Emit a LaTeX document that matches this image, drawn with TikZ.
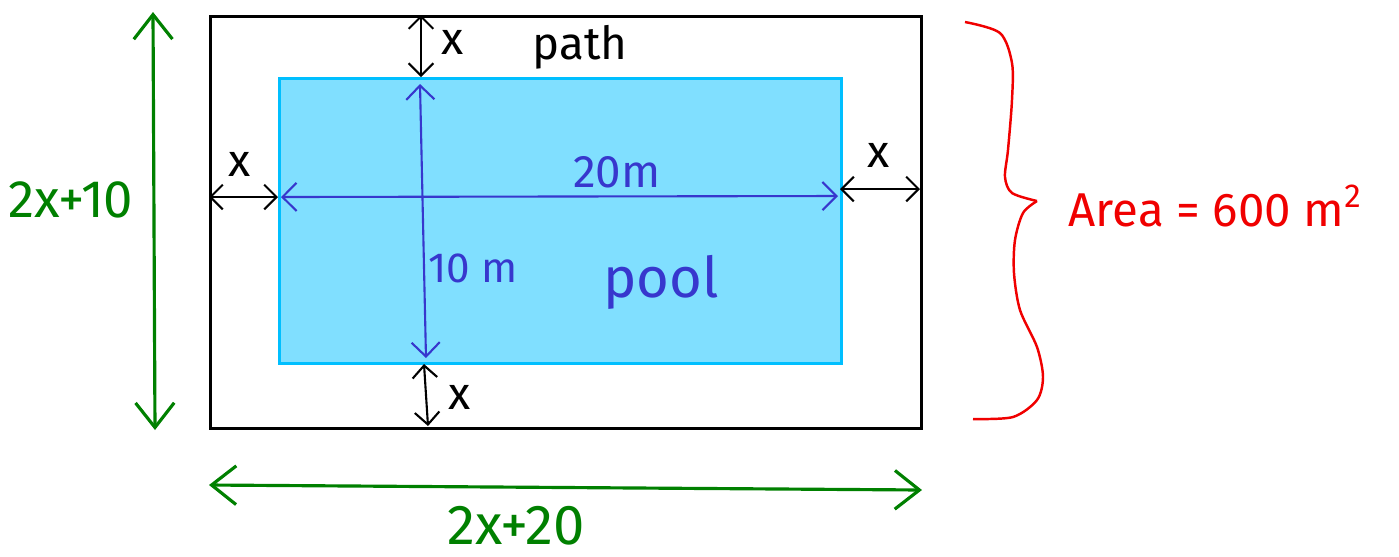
\documentclass[tikz,border=0pt]{standalone}
\usepackage{fontspec}
\setmainfont{Fira Sans}
\usetikzlibrary{arrows.meta}
\definecolor{poolfill}{RGB}{128,223,255}
\definecolor{pooledge}{RGB}{0,191,255}
\definecolor{dimblue}{RGB}{55,55,205}
\definecolor{dimgreen}{RGB}{0,128,0}
\definecolor{areared}{RGB}{240,0,0}
\tikzset{
  dimline/.style={<->, line width=0.6pt},
  bigdim/.style={<->, dimgreen, line width=0.9pt, >={Straight Barb[length=7pt,width=11pt]}},
  bigtext/.style={font=\fontsize{16}{19}\selectfont, inner sep=0pt}
}
\begin{document}
\begin{tikzpicture}[>={Straight Barb[length=3.5pt,width=7pt]}, every node/.style={font=\fontsize{13}{15}\selectfont}]
        \useasboundingbox (0,0) rectangle (13.99,-5.56);
        % path and pool
        \node[draw, line width=0.9pt, minimum width=7.11cm, minimum height=4.12cm, inner sep=0, anchor=north west] (outer) at (2.09,-0.15) {};
        \node[draw=pooledge, fill=poolfill, line width=0.9pt, minimum width=5.62cm, minimum height=2.85cm, inner sep=0, anchor=north west] (pool) at (2.78,-0.77) {};
        \coordinate (topA) at (4.21,-0.15); \coordinate (topB) at (4.21,-0.77);
        \coordinate (leftA) at (2.09,-1.97); \coordinate (leftB) at (2.78,-1.97);
        \coordinate (rightA) at (8.40,-1.89); \coordinate (rightB) at (9.20,-1.89);
        \coordinate (botA) at (4.24,-3.64); \coordinate (botB) at (4.28,-4.26);
        \draw[dimline] (topA) -- (topB);
        \draw[dimline] (leftA) -- (leftB);
        \draw[dimline] (rightA) -- (rightB);
        \draw[dimline] (botA) -- (botB);
        \node (xtop) at (4.53,-0.42) {x};
        \node (xleft) at (2.40,-1.64) {x};
        \node (xright) at (8.79,-1.55) {x};
        \node (xbot) at (4.60,-3.97) {x};
        \node (pathlbl) at (5.80,-0.47) {path};
        % pool sizes
        \coordinate (lenA) at (2.81,-1.97); \coordinate (lenB) at (8.38,-1.96);
        \coordinate (widA) at (4.20,-0.84); \coordinate (widB) at (4.26,-3.58);
        \draw[dimline, dimblue, >={Straight Barb[length=4pt,width=8pt]}] (lenA) -- (lenB);
        \draw[dimline, dimblue, >={Straight Barb[length=4pt,width=8pt]}] (widA) -- (widB);
        \node[dimblue] (lenlbl) at (6.17,-1.72) {20m};
        \node[dimblue, font=\fontsize{12}{14}\selectfont] (widlbl) at (4.73,-2.68) {10 m};
        \node[dimblue, bigtext] (poollbl) at (6.61,-2.82) {pool};
        % outer sizes
        \coordinate (hA) at (1.53,-0.12); \coordinate (hB) at (1.55,-4.30);
        \coordinate (wA) at (2.09,-4.85); \coordinate (wB) at (9.22,-4.90);
        \draw[bigdim] (hA) -- (hB);
        \draw[bigdim] (wA) -- (wB);
        \node[dimgreen, bigtext, font=\fontsize{15}{18}\selectfont] (hlbl) at (0.71,-2.00) {2x+10};
        \node[dimgreen, bigtext] (wlbl) at (5.16,-5.26) {2x+20};
        % brace
        \draw[areared, line width=0.7pt] plot[smooth] coordinates {(9.65,-0.22) (10.00,-0.33) (10.12,-0.63) (10.12,-1.00) (10.08,-1.50) (10.05,-1.77) (10.12,-1.93) (10.37,-2.01)};
        \draw[areared, line width=0.7pt] plot[smooth] coordinates {(10.37,-2.01) (10.23,-2.13) (10.15,-2.40) (10.14,-2.73) (10.20,-3.10) (10.37,-3.47) (10.43,-3.77) (10.37,-4.00) (10.13,-4.17) (9.73,-4.19)};
        \node[areared, bigtext, font=\fontsize{13.5}{16}\selectfont, anchor=west] (arealbl) at (10.68,-2.06) {Area = 600 m\textsuperscript{2}};
    \end{tikzpicture}
\end{document}
